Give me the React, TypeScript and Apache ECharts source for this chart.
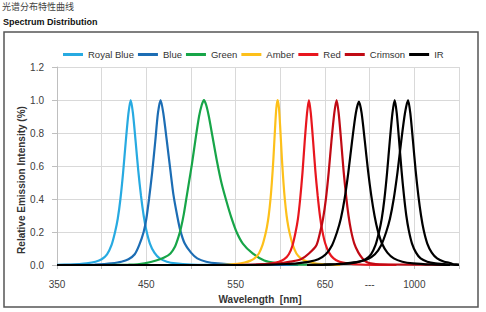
import React, { useEffect, useRef } from "react";
import * as echarts from "echarts";

// x positions are in display-nm: 350..700 real nm, then the axis is broken ("---", "1000")
const xTickLabels: Record<number, string> = { 350: "350", 450: "450", 550: "550", 650: "650", 700: "---", 750: "1000" };
const legendNames = ["Royal Blue", "Blue", "Green", "Amber", "Red", "Crimson", "IR"];
const colors: Record<string, string> = {
  "Royal Blue": "#27AAE1",
  Blue: "#1C6DB4",
  Green: "#17A548",
  Amber: "#FDC01A",
  Red: "#E8161E",
  Crimson: "#C00A14",
  IR: "#000000",
};

const royalBlue: [number, number][] = [
  [350, 0.001], [365, 0.003], [375, 0.006], [383, 0.01], [393, 0.02], [400, 0.035], [406, 0.065], [411, 0.12],
  [415, 0.2], [418, 0.28], [421, 0.4], [424, 0.56], [427, 0.75], [430, 0.92], [432.5, 1.0], [435, 0.92],
  [438, 0.75], [441, 0.57], [444, 0.42], [447, 0.3], [450, 0.21], [454, 0.13], [459, 0.075], [465, 0.04],
  [473, 0.02], [483, 0.01], [500, 0.003], [520, 0.001], [560, 0],
];
const blue: [number, number][] = [
  [350, 0], [392, 0.003], [403, 0.006], [411, 0.01], [422, 0.02], [430, 0.035], [437, 0.065], [442, 0.12],
  [447, 0.2], [450, 0.28], [453, 0.4], [456.5, 0.56], [460, 0.75], [463, 0.92], [466, 1.0], [469, 0.92],
  [473, 0.75], [477, 0.57], [480.5, 0.42], [484.5, 0.3], [488, 0.21], [493, 0.13], [500, 0.075], [507, 0.04],
  [517, 0.02], [530, 0.01], [552, 0.003], [577, 0.001], [620, 0],
];
const green: [number, number][] = [
  [400, 0], [430, 0.002], [440, 0.004], [448, 0.01], [461, 0.027], [470, 0.045], [477, 0.07], [482, 0.11],
  [486, 0.17], [489, 0.23], [492, 0.31], [495, 0.41], [498, 0.51], [501, 0.61], [505, 0.76], [509, 0.9],
  [512, 0.97], [514.5, 1.0], [517, 0.97], [520, 0.9], [524, 0.78], [529, 0.63], [534, 0.5], [540, 0.38],
  [545, 0.29], [551, 0.2], [558, 0.13], [569, 0.07], [582, 0.027], [595, 0.012], [610, 0.005], [630, 0.002], [660, 0],
];
const amber: [number, number][] = [
  [527, 0], [542, 0.003], [552, 0.007], [560, 0.015], [566, 0.025], [571, 0.04], [576, 0.07], [580, 0.12],
  [583, 0.18], [585, 0.23], [587, 0.3], [589, 0.4], [590.5, 0.5], [592.2, 0.64], [594, 0.82], [595.5, 0.95],
  [597, 1.0], [598.5, 0.95], [600, 0.82], [601.8, 0.64], [603.5, 0.5], [605, 0.4], [607, 0.3], [609, 0.23],
  [611, 0.18], [614, 0.12], [618, 0.07], [623, 0.04], [628, 0.025], [634, 0.015], [642, 0.007], [652, 0.003], [667, 0],
];
const red: [number, number][] = [
  [545, 0], [562, 0.001], [574.6, 0.003], [583, 0.006], [590, 0.01], [598.4, 0.02], [604.4, 0.035], [609.5, 0.065],
  [613.7, 0.12], [617.1, 0.2], [619.7, 0.28], [622.2, 0.4], [624.8, 0.56], [627.3, 0.75], [629.9, 0.92], [632, 1.0],
  [634.1, 0.92], [636.7, 0.75], [639.2, 0.57], [641.8, 0.42], [644.3, 0.3], [646.9, 0.21], [650.3, 0.13], [654.5, 0.075],
  [659.6, 0.04], [666.4, 0.02], [674.9, 0.01], [689.4, 0.003], [706.4, 0.001], [730, 0],
];
const crimson: [number, number][] = [
  [560, 0], [573, 0.002], [588, 0.005], [600, 0.01], [611, 0.02], [623, 0.035], [632, 0.07], [640.4, 0.12],
  [644.6, 0.2], [647.8, 0.28], [651, 0.4], [654.1, 0.56], [657.2, 0.75], [660.4, 0.92], [663, 1.0], [665.3, 0.92],
  [668.1, 0.75], [670.8, 0.57], [673.6, 0.42], [676.3, 0.3], [679.1, 0.21], [682.8, 0.13], [687.4, 0.075], [692, 0.04],
  [697, 0.017], [703, 0.008], [711, 0.004], [730, 0.003], [770, 0.002], [790, 0],
];
const ir1: [number, number][] = [
  [350, 0], [560, 0], [593.5, 0.003], [607.5, 0.006], [618.7, 0.01], [632.7, 0.02], [642.5, 0.035], [650.9, 0.065],
  [657.9, 0.12], [663.5, 0.2], [667.7, 0.28], [671.9, 0.4], [676.1, 0.56], [680.3, 0.75], [684.5, 0.92], [688, 0.99],
  [691, 0.92], [694.6, 0.75], [698.2, 0.57], [701.8, 0.42], [705.4, 0.3], [709, 0.21], [713.8, 0.13], [719.8, 0.075],
  [727, 0.04], [736.6, 0.02], [748.6, 0.01], [769, 0.003], [790, 0],
];
const ir2: [number, number][] = [
  [630, 0], [645.5, 0.001], [660.5, 0.003], [670.5, 0.006], [678.5, 0.01], [688.5, 0.02], [695.5, 0.035], [701.5, 0.065],
  [706.5, 0.12], [710.5, 0.2], [713.5, 0.28], [716.5, 0.4], [719.5, 0.56], [722.5, 0.75], [725.5, 0.92], [728, 1.0],
  [730.3, 0.92], [733, 0.75], [735.7, 0.57], [738.4, 0.42], [741, 0.3], [743.8, 0.21], [747.4, 0.13], [751.9, 0.075],
  [757, 0.04], [764.5, 0.02], [773.5, 0.01], [788, 0.003], [800, 0],
];
const ir3: [number, number][] = [
  [630, 0], [648.5, 0.003], [662.5, 0.006], [673.7, 0.01], [687.7, 0.02], [697.5, 0.035], [705.9, 0.065], [712.9, 0.12],
  [718.5, 0.2], [722.7, 0.28], [726.9, 0.4], [731.1, 0.56], [735.3, 0.75], [739.5, 0.92], [743, 1.0], [745.5, 0.92],
  [748.5, 0.75], [751.5, 0.57], [754.5, 0.42], [757.5, 0.3], [760.5, 0.21], [764.5, 0.13], [769.5, 0.075], [775.5, 0.04],
  [783.5, 0.02], [789, 0.014], [793, 0.006], [797, 0.004], [800, 0.003],
];

const seriesList: { name: string; data: [number, number][] }[] = [
  { name: "Royal Blue", data: royalBlue },
  { name: "Blue", data: blue },
  { name: "Green", data: green },
  { name: "Amber", data: amber },
  { name: "Red", data: red },
  { name: "Crimson", data: crimson },
  { name: "IR", data: ir1 },
  { name: "IR", data: ir2 },
  { name: "IR", data: ir3 },
];

const SANS = "'Liberation Sans', Arial, sans-serif";

export default function App() {
  const ref = useRef<HTMLDivElement>(null);
  useEffect(() => {
    if (!ref.current) return;
    const chart = echarts.init(ref.current, undefined, { renderer: "svg" });
    chart.setOption({
      animation: false,
      backgroundColor: "#ffffff",
      grid: { left: 57, right: 27, top: 67, bottom: 47 },
      legend: {
        data: legendNames,
        left: 58,
        top: 44,
        icon: "rect",
        itemWidth: 20,
        itemHeight: 3,
        itemGap: 4,
        textStyle: { fontFamily: SANS, fontSize: 9.5, color: "#333", lineHeight: 11 },
      },
      xAxis: {
        type: "value",
        min: 350,
        max: 800,
        interval: 50,
        axisLine: { show: true, lineStyle: { color: "#bfbfbf", width: 1 } },
        axisTick: { show: true, length: 4, lineStyle: { color: "#bfbfbf" } },
        splitLine: { show: true, lineStyle: { color: "#d9d9d9", width: 1 } },
        axisLabel: {
          margin: 14,
          fontFamily: SANS,
          fontSize: 10,
          color: "#404040",
          showMinLabel: true,
          showMaxLabel: true,
          formatter: (v: number) => xTickLabels[v] ?? "",
        },
      },
      yAxis: {
        type: "value",
        min: 0,
        max: 1.2,
        interval: 0.2,
        axisLine: { show: true, lineStyle: { color: "#bfbfbf", width: 1 } },
        axisTick: { show: true, length: 5, lineStyle: { color: "#bfbfbf" } },
        splitLine: { show: true, lineStyle: { color: "#d9d9d9", width: 1 } },
        axisLabel: {
          margin: 13,
          fontFamily: SANS,
          fontSize: 10,
          color: "#404040",
          formatter: (v: number) => v.toFixed(1),
        },
      },
      series: seriesList.map((s) => ({
        type: "line",
        name: s.name,
        data: s.data,
        showSymbol: false,
        symbol: "none",
        smooth: 0.25,
        lineStyle: { color: colors[s.name], width: 2.2 },
        itemStyle: { color: colors[s.name] },
        emphasis: { disabled: true },
      })),
      graphic: [
        {
          type: "rect",
          shape: { x: 4, y: 32, width: 474, height: 275 },
          style: { fill: "none", stroke: "#555", lineWidth: 1.5 },
          silent: true,
        },
        {
          type: "text",
          x: 2,
          y: 2,
          style: { text: "光谱分布特性曲线", fontFamily: "'Noto Sans CJK SC', sans-serif", fontSize: 9, fill: "#444" },
        },
        {
          type: "text",
          x: 3,
          y: 17,
          style: { text: "Spectrum Distribution", fontFamily: SANS, fontSize: 9, fontWeight: "bold", fill: "#111" },
        },
        {
          type: "text",
          x: 21,
          y: 180,
          rotation: Math.PI / 2,
          style: {
            text: "Relative Emission Intensity (%)",
            fontFamily: SANS,
            fontSize: 10,
            fontWeight: "bold",
            fill: "#333",
            textAlign: "center",
            textVerticalAlign: "middle",
            align: "center",
            verticalAlign: "middle",
          },
        },
        {
          type: "text",
          x: 260,
          y: 299,
          style: {
            text: "Wavelength  [nm]",
            fontFamily: SANS,
            fontSize: 10,
            fontWeight: "bold",
            fill: "#333",
            textAlign: "center",
            textVerticalAlign: "middle",
            align: "center",
            verticalAlign: "middle",
          },
        },
      ],
    });
    return () => chart.dispose();
  }, []);
  return <div ref={ref} style={{ position: "absolute", left: 0, top: 0, width: 486, height: 312 }} />;
}
